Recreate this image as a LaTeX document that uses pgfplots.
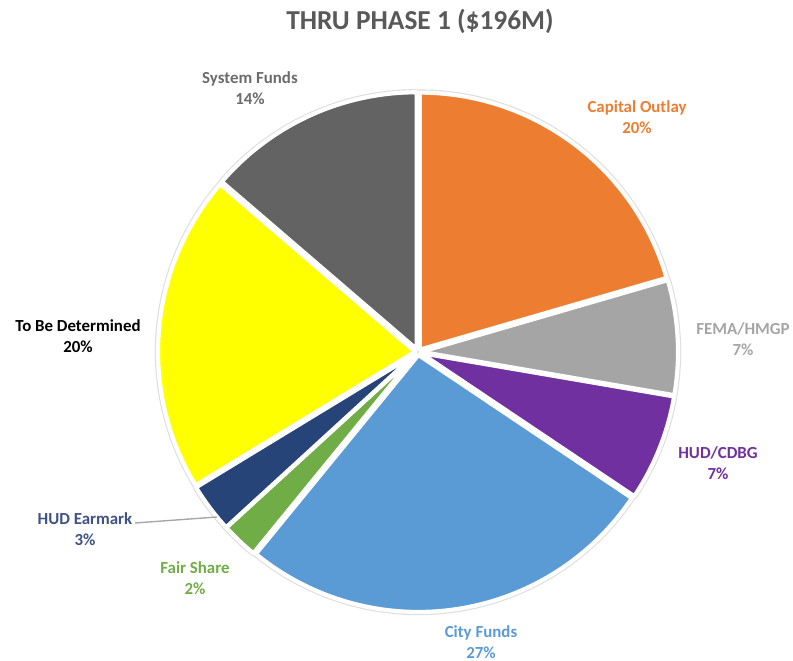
\documentclass[border=0pt]{standalone}
\usepackage{pgfplots}
\usepackage{pgfplotstable}
\pgfplotsset{compat=1.18}
\usepackage{fontspec}
\setmainfont{Carlito}
\definecolor{cOrange}{HTML}{ED7D31}
\definecolor{cGray}{HTML}{A5A5A5}
\definecolor{cPurple}{HTML}{7030A0}
\definecolor{cBlue}{HTML}{5B9BD5}
\definecolor{cGreen}{HTML}{70AD47}
\definecolor{cNavy}{HTML}{264478}
\definecolor{cYellow}{HTML}{FFFF00}
\definecolor{cDark}{HTML}{636363}
\definecolor{cTitle}{HTML}{595959}
\definecolor{cSysLbl}{HTML}{6B6B6B}
\definecolor{cNavyLbl}{HTML}{3E5285}
\pgfplotstableread{
name pct
CapitalOutlay 20.5
FEMAHMGP 7.2
HUDCDBG 6.7
CityFunds 26.5
FairShare 2.3
HUDEarmark 3.1
ToBeDetermined 20.0
SystemFunds 13.7
}\piedata
\newcommand\getpct[2]{\pgfplotstablegetelem{#1}{pct}\of\piedata\global\let#2\pgfplotsretval}
\getpct{0}{\pA}\getpct{1}{\pB}\getpct{2}{\pC}\getpct{3}{\pD}%
\getpct{4}{\pE}\getpct{5}{\pF}\getpct{6}{\pG}\getpct{7}{\pH}%
\pgfmathsetmacro\aA{90}
\pgfmathsetmacro\aB{\aA-3.6*\pA}
\pgfmathsetmacro\aC{\aB-3.6*\pB}
\pgfmathsetmacro\aD{\aC-3.6*\pC}
\pgfmathsetmacro\aE{\aD-3.6*\pD}
\pgfmathsetmacro\aF{\aE-3.6*\pE}
\pgfmathsetmacro\aG{\aF-3.6*\pF}
\pgfmathsetmacro\aH{\aG-3.6*\pG}
\pgfmathsetmacro\aI{\aH-3.6*\pH}
\def\cx{418}\def\cy{309}\def\R{257}\def\E{3}
% #1 = style, #2 = start angle, #3 = end angle
\newcommand\slice[3]{%
  \pgfmathsetmacro\ox{\cx+\E*cos((#2+#3)/2)}%
  \pgfmathsetmacro\oy{\cy+\E*sin((#2+#3)/2)}%
  \edef\doslice{\noexpand\addplot[#1, line join=round, domain=#2:#3, samples=80, variable=\noexpand\t]
    ({\ox+\R*cos(\noexpand\t)}, {\oy+\R*sin(\noexpand\t)}) -- (axis cs:\ox,\oy) -- cycle;}%
  \doslice}
\begin{document}
\begin{tikzpicture}
\begin{axis}[width=7.93in, height=6.61in, scale only axis,
  xmin=0, xmax=793, ymin=0, ymax=661, hide axis, clip=false]
\coordinate (bl) at (axis cs:0,0);
\coordinate (tr) at (axis cs:793,661);
% faint shadow outlines
\slice{draw=black!13, line width=4.6pt}{\aB}{\aA}
\slice{draw=black!13, line width=4.6pt}{\aC}{\aB}
\slice{draw=black!13, line width=4.6pt}{\aD}{\aC}
\slice{draw=black!13, line width=4.6pt}{\aE}{\aD}
\slice{draw=black!13, line width=4.6pt}{\aF}{\aE}
\slice{draw=black!13, line width=4.6pt}{\aG}{\aF}
\slice{draw=black!13, line width=4.6pt}{\aH}{\aG}
\slice{draw=black!13, line width=4.6pt}{\aI}{\aH}
% slices
\slice{fill=cOrange, draw=white, line width=3pt}{\aB}{\aA}
\slice{fill=cGray, draw=white, line width=3pt}{\aC}{\aB}
\slice{fill=cPurple, draw=white, line width=3pt}{\aD}{\aC}
\slice{fill=cBlue, draw=white, line width=3pt}{\aE}{\aD}
\slice{fill=cGreen, draw=white, line width=3pt}{\aF}{\aE}
\slice{fill=cNavy, draw=white, line width=3pt}{\aG}{\aF}
\slice{fill=cYellow, draw=white, line width=3pt}{\aH}{\aG}
\slice{fill=cDark, draw=white, line width=3pt}{\aI}{\aH}
\addplot[color=gray!70, line width=1pt] coordinates {(135,138) (217,144)};
\tikzset{lbl/.style={font=\fontsize{12.2}{15}\selectfont\bfseries, align=center, inner sep=0pt}}
\node[font=\fontsize{19.8}{22}\selectfont\bfseries, text=cTitle] at (axis cs:420,640) {THRU PHASE 1 (\$196M)};
\node[lbl, text=cSysLbl] at (axis cs:250,573) {System Funds\\14\%};
\node[lbl, text=cOrange] at (axis cs:637,544) {Capital Outlay\\20\%};
\node[lbl, text=cGray] at (axis cs:743,322) {FEMA/HMGP\\7\%};
\node[lbl, text=cPurple] at (axis cs:718,198) {HUD/CDBG\\7\%};
\node[lbl, text=cBlue] at (axis cs:481,19) {City Funds\\27\%};
\node[lbl, text=cGreen] at (axis cs:195,83) {Fair Share\\2\%};
\node[lbl, text=cNavyLbl] at (axis cs:85,132) {HUD Earmark\\3\%};
\node[lbl, text=black] at (axis cs:78,325) {To Be Determined\\20\%};
\end{axis}
\pgfresetboundingbox
\useasboundingbox (bl) rectangle (tr);
\end{tikzpicture}
\end{document}
